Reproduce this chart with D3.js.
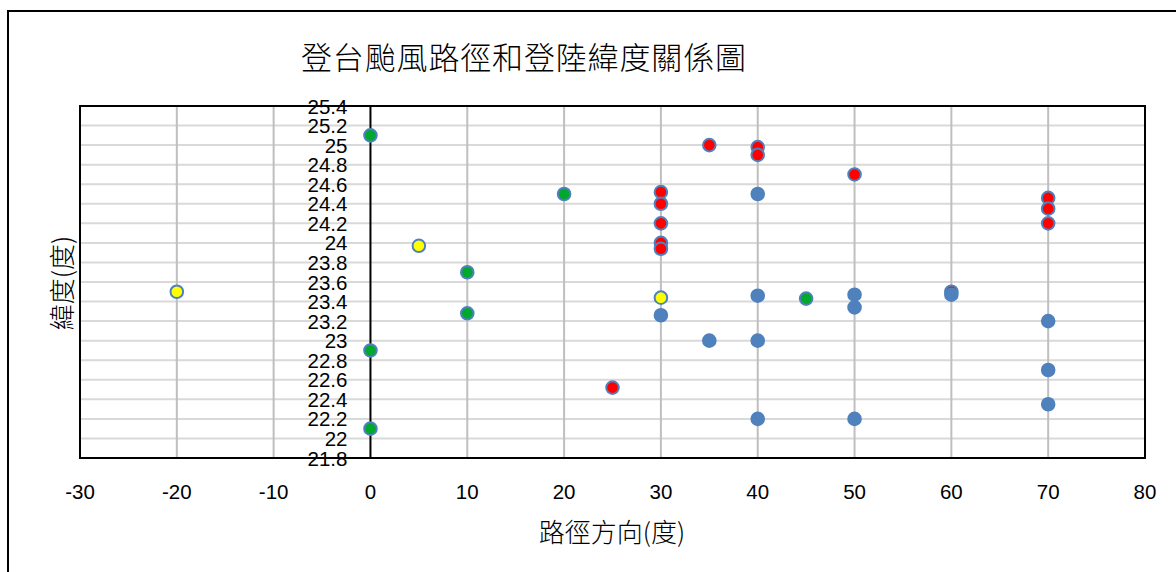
<!DOCTYPE html>
<html><head><meta charset="utf-8">
<script src="https://cdn.jsdelivr.net/npm/d3@7"></script>
<style>html,body{margin:0;padding:0;background:#fff;}</style>
</head><body>
<script>
// Data: 路徑方向(度) vs 緯度(度)
const redDir  = [30, 30, 30, 30, 30, 35, 40, 40, 25, 50, 60, 70, 70, 70];
const redLat  = [24.52, 24.4, 24.2, 24.0, 23.94, 25.0, 24.98, 24.9, 22.52, 24.7, 23.5, 24.46, 24.35, 24.2];
const yellowDir = [-20, 5, 30];
const yellowLat = [23.5, 23.97, 23.44];
const greenDir = [0, 0, 0, 10, 10, 20, 45];
const greenLat = [25.1, 22.9, 22.1, 23.7, 23.28, 24.5, 23.43];
const blueDir = [30, 40, 40, 35, 40, 40, 50, 50, 50, 60, 70, 70, 70];
const blueLat = [23.26, 24.5, 23.46, 23.0, 23.0, 22.2, 23.47, 23.34, 22.2, 23.47, 23.2, 22.7, 22.35];
const xTicks = [-30, -20, -10, 0, 10, 20, 30, 40, 50, 60, 70, 80];
const yTickLabels = ["21.8","22","22.2","22.4","22.6","22.8","23","23.2","23.4","23.6","23.8","24","24.2","24.4","24.6","24.8","25","25.2","25.4"];
const title = "登台颱風路徑和登陸緯度關係圖";
const xTitle = "路徑方向(度)";
const yTitle = "緯度(度)";

const W = 1176, H = 572;
const svg = d3.select("body").append("svg").attr("width", W).attr("height", H);
const L = 80, R = 1145, T = 106, B = 458;
const x = d3.scaleLinear().domain([-30, 80]).range([L, R]);
const y = d3.scaleLinear().domain([21.8, 25.4]).range([B, T]);

// outer frame
svg.append("rect").attr("x", 8).attr("y", 11).attr("width", 1200).attr("height", 600)
  .attr("fill", "none").attr("stroke", "#000").attr("stroke-width", 2);

const cjk = "'Noto Sans CJK TC','Noto Sans CJK SC',sans-serif";
const num = "'Liberation Sans',Arial,sans-serif";

svg.append("text").attr("x", 301).attr("y", 55)
  .attr("dominant-baseline", "central")
  .attr("textLength", 445).attr("lengthAdjust", "spacing")
  .style("font-family", cjk).style("font-size", "31px").style("font-weight", 300)
  .attr("fill", "#000").text(title);

// horizontal grid
const yVals = yTickLabels.map(Number);
svg.append("g").selectAll("line").data(yVals).join("line")
  .attr("x1", L).attr("x2", R).attr("y1", d => y(d)).attr("y2", d => y(d))
  .attr("stroke", "#d9d9d9").attr("stroke-width", 2);
// vertical grid
svg.append("g").selectAll("line").data(xTicks.filter(d => d !== 0 && d > -30 && d < 80)).join("line")
  .attr("x1", d => x(d)).attr("x2", d => x(d)).attr("y1", T).attr("y2", B)
  .attr("stroke", "#bfbfbf").attr("stroke-width", 2);

// plot border
svg.append("rect").attr("x", L).attr("y", T).attr("width", R - L).attr("height", B - T)
  .attr("fill", "none").attr("stroke", "#000").attr("stroke-width", 2);
// y axis at x=0
svg.append("line").attr("x1", x(0)).attr("x2", x(0)).attr("y1", T).attr("y2", B)
  .attr("stroke", "#000").attr("stroke-width", 2);

// y tick labels
svg.append("g").selectAll("text").data(yTickLabels).join("text")
  .attr("x", x(0) - 23).attr("y", d => y(+d)).attr("text-anchor", "end")
  .attr("dominant-baseline", "central")
  .style("font-family", num).style("font-size", "20.5px").attr("fill", "#000").text(d => d);

// x tick labels
svg.append("g").selectAll("text").data(xTicks).join("text")
  .attr("x", d => x(d)).attr("y", 491).attr("text-anchor", "middle")
  .attr("dominant-baseline", "central")
  .style("font-family", num).style("font-size", "20.5px").attr("fill", "#000").text(d => d);

// axis titles
svg.append("text").attr("x", 612).attr("y", 530).attr("text-anchor", "middle")
  .attr("dominant-baseline", "central")
  .style("font-family", cjk).style("font-size", "26px").style("font-weight", 300).attr("fill", "#000").text(xTitle);
svg.append("text").attr("transform", "translate(60,283) rotate(-90)").attr("text-anchor", "middle")
  .attr("dominant-baseline", "central")
  .style("font-family", cjk).style("font-size", "26px").style("font-weight", 300).attr("fill", "#000").text(yTitle);

// points
const series = [
  {dir: redDir, lat: redLat, fill: "#ff0000"},
  {dir: yellowDir, lat: yellowLat, fill: "#ffff00"},
  {dir: greenDir, lat: greenLat, fill: "#00a82d"},
  {dir: blueDir, lat: blueLat, fill: "#4f81bd"}
];
series.forEach(s => {
  const pts = s.dir.map((d, i) => [d, s.lat[i]]);
  svg.append("g").selectAll("circle").data(pts).join("circle")
    .attr("cx", d => x(d[0])).attr("cy", d => y(d[1])).attr("r", 6.3)
    .attr("fill", s.fill).attr("stroke", "#4f81bd").attr("stroke-width", 2);
});
</script>
</body></html>
